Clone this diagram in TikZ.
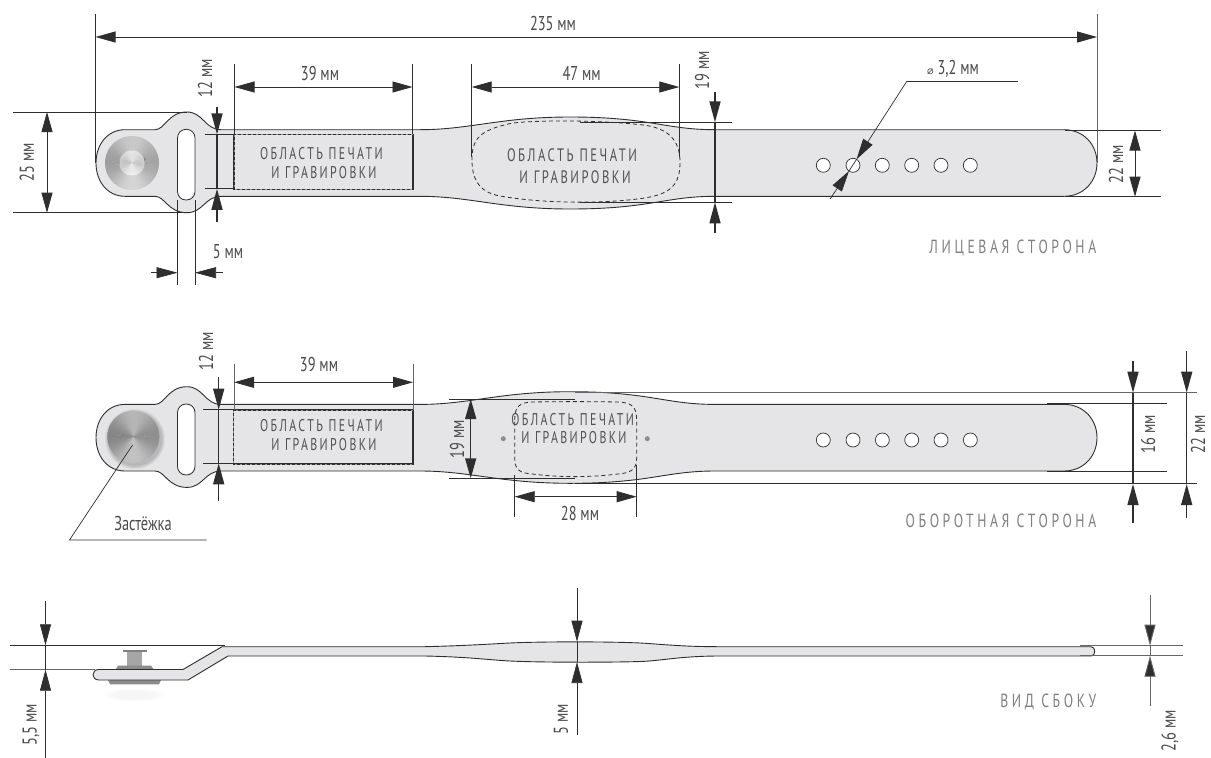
\documentclass[tikz,border=0pt]{standalone}
\usepackage{fontspec}
\setmainfont[FakeStretch=0.72]{PT Sans}
\newfontfamily\spaced[FakeStretch=0.7,LetterSpace=14]{PT Sans}
\newfontfamily\spacedw[FakeStretch=0.72,LetterSpace=19]{PT Sans}
\newfontfamily\symb{DejaVu Sans}
\usetikzlibrary{arrows.meta}
\definecolor{ink}{HTML}{2E2E2E}
\definecolor{belt}{HTML}{E5E5E7}
\definecolor{lab}{HTML}{4A4A4A}
\definecolor{cap}{HTML}{808080}
\tikzset{
  x=1pt,y=-1pt,
  outline/.style={draw=ink,line width=0.9pt,fill=belt},
  ext/.style={draw=ink,line width=0.7pt},
  extg/.style={draw=black!60,line width=0.9pt},
  dim/.style={draw=ink,line width=0.8pt,{Triangle[length=20pt,width=11pt]}-{Triangle[length=20pt,width=11pt]}},
  dimb/.style={dim,line width=1.4pt},
  shaft/.style={draw=ink,line width=1.5pt},
  tipin/.style={-{Triangle[length=21pt,width=11pt,fill=ink]}},
  dl/.style={font=\fontsize{20}{20}\selectfont,text=lab,inner sep=0pt},
  area/.style={font=\fontsize{17}{18}\selectfont\spaced,text=black!68,inner sep=0pt},
  areab/.style={font=\fontsize{18}{19}\selectfont\spaced,text=black!68,inner sep=0pt},
  caption/.style={font=\fontsize{19}{20}\selectfont\spacedw,text=cap,inner sep=0pt,anchor=east},
  hole/.style={draw=ink,line width=0.7pt,fill=white},
  dashb/.style={draw=ink,line width=0.8pt,dash pattern=on 4pt off 3pt},
  beltpath/.style n args={3}{insert path={
  (125,129.7+#1)
  -- (155,129.7+#1)
  .. controls (165,129.7+#1) and (168,112+#1) .. (187,112+#1)
  .. controls (203,112+#1) and (205,129.7+#1) .. (221,129.7+#1)
  -- (420,129.7+#1)
  .. controls (470,129.7+#1) and (500,#2) .. (570,#2)
  .. controls (650,#2) and (665,129.7+#1) .. (715,129.7+#1)
  -- (1064,129.7+#1)
  .. controls (1084,129.7+#1) and (1097,145+#1) .. (1097,163+#1)
  .. controls (1097,181+#1) and (1084,196.3+#1) .. (1064,196.3+#1)
  -- (715,196.3+#1)
  .. controls (665,196.3+#1) and (650,#3) .. (570,#3)
  .. controls (500,#3) and (470,196.3+#1) .. (420,196.3+#1)
  -- (221,196.3+#1)
  .. controls (205,196.3+#1) and (203,212.7+#1) .. (187,212.7+#1)
  .. controls (168,212.7+#1) and (165,196.3+#1) .. (155,196.3+#1)
  -- (125,196.3+#1)
  .. controls (107,196.3+#1) and (96,181+#1) .. (96,163+#1)
  .. controls (96,145+#1) and (107,129.7+#1) .. (125,129.7+#1) -- cycle}},
}
\newcommand{\metaldisc}[5]{% cx, cy, r, mean k, amp
  \foreach \a in {0,5,...,355}{
    \pgfmathsetmacro{\g}{#4+#5*cos(2*(\a+2.5))+0.3*#5*cos(\a-120)}
    \fill[black!\g!white] (#1,#2) -- ++({#3*cos(\a)},{-#3*sin(\a)}) arc[start angle=-\a,end angle={-\a-5.6},radius=#3] -- cycle;
  }}
\begin{document}
\begin{tikzpicture}
\useasboundingbox (0,0) rectangle (1211,758);
\fill[white] (0,0) rectangle (1211,758);

%====== FRONT
\path[outline,beltpath={0}{117}{209}];
\fill[white,draw=ink,line width=0.8pt,rounded corners=8.5pt] (177.5,129.3) rectangle (195,200);
\metaldisc{132}{163}{27}{28}{9}
\draw[black!50,line width=2.5pt] (132,163) ++(-20:13.5) arc[start angle=20,end angle=65,radius=13.5];
\metaldisc{132}{163}{12.5}{14}{6}
\foreach \x [count=\i] in {823.3,853,882.3,911.7,941,970.3}
  \node[hole,circle,minimum size=14pt,inner sep=0pt] (fh\i) at (\x,165.3) {};
\node[draw=ink,line width=1.3pt,minimum width=179pt,minimum height=55pt,inner sep=0pt] (frect) at (323.5,161.8) {};
\draw[black!40,line width=0.5pt,dash pattern=on 2pt off 3pt] (413,134.3) -- (234,134.3) -- (234,189.3) -- (413,189.3);
\node[area] (f1a) at (321.5,154) {ОБЛАСТЬ ПЕЧАТИ};
\node[area] (f1b) at (324,172.7) {И ГРАВИРОВКИ};
\draw[dashb] (472,160) .. controls (472,140) and (478,130) .. (513,123)
  .. controls (540,120) and (600,120) .. (643,125)
  .. controls (668,128) and (680,140) .. (680,162)
  .. controls (680,180) and (675,192) .. (650,197)
  .. controls (620,203) and (550,205) .. (500,196)
  .. controls (478,192) and (472,178) .. (472,160) -- cycle;
\node[areab] (f2a) at (572,155) {ОБЛАСТЬ ПЕЧАТИ};
\node[areab] (f2b) at (575,176.7) {И ГРАВИРОВКИ};

% 235
\coordinate (e1) at (95.5,14); \coordinate (e1b) at (95.5,163);
\coordinate (e2) at (1097,14); \coordinate (e2b) at (1097,163);
\draw[ext] (e1)--(e1b); \draw[extg] (e2)--(e2b);
\coordinate (d1) at (95.5,37); \coordinate (d2) at (1097,37);
\draw[dim] (d1)--(d2);
\node[dl] (l235) at (553,23) {235 мм};
% 25
\coordinate (a1) at (13,112); \coordinate (a2) at (187,112);
\coordinate (a3) at (13,212.7); \coordinate (a4) at (187,212.7);
\draw[ext] (a1)--(a2); \draw[ext] (a3)--(a4);
\coordinate (a5) at (47,112); \coordinate (a6) at (47,212.7);
\draw[dim] (a5)--(a6);
\node[dl,rotate=90] (l25) at (27,162) {25 мм};
% 12
\coordinate (b1) at (205,134.4); \coordinate (b2) at (234,134.4);
\coordinate (b3) at (205,188.8); \coordinate (b4) at (234,188.8);
\draw[ext] (b1)--(b2); \draw[ext] (b3)--(b4);
\coordinate (b5) at (217,107); \coordinate (b6) at (217,134.4);
\coordinate (b7) at (217,221.7); \coordinate (b8) at (217,188.8);
\draw[shaft] (b6)--(b8);
\draw[shaft,tipin] (b5)--(b6);
\draw[shaft,tipin] (b7)--(b8);
\node[dl,rotate=90] (l12) at (205,78) {12 мм};
% 39
\coordinate (c1) at (234.5,64); \coordinate (c2) at (234.5,134);
\coordinate (c3) at (412.5,64); \coordinate (c4) at (412.5,134);
\draw[ext] (c1)--(c2); \draw[ext] (c3)--(c4);
\coordinate (c5) at (234.5,87); \coordinate (c6) at (412.5,87);
\draw[dim] (c5)--(c6);
\node[dl] (l39) at (320,73) {39 мм};
% 5
\coordinate (g1) at (177.5,200); \coordinate (g2) at (177.5,284.7);
\coordinate (g3) at (195,200); \coordinate (g4) at (195,284.7);
\draw[ext] (g1)--(g2); \draw[ext] (g3)--(g4);
\coordinate (g5) at (150.6,272.7); \coordinate (g6) at (177.5,272.7);
\coordinate (g7) at (223,272.7); \coordinate (g8) at (195,272.7);
\draw[ext,tipin] (g5)--(g6);
\draw[ext,tipin] (g7)--(g8);
\node[dl] (l5) at (228,252) {5 мм};
% 47
\coordinate (h1) at (471.7,64); \coordinate (h2) at (471.7,157);
\coordinate (h3) at (679.3,64); \coordinate (h4) at (679.3,157);
\draw[ext] (h1)--(h2); \draw[ext] (h3)--(h4);
\coordinate (h5) at (471.7,87); \coordinate (h6) at (679.3,87);
\draw[dim] (h5)--(h6);
\node[dl] (l47) at (581.7,73) {47 мм};
% 19
\coordinate (i1) at (580,122.3); \coordinate (i2) at (731.7,122.3);
\coordinate (i3) at (580,202.3); \coordinate (i4) at (731.7,202.3);
\draw[ext] (i1)--(i2); \draw[ext] (i3)--(i4);
\coordinate (i5) at (715,92); \coordinate (i6) at (715,122.3);
\coordinate (i7) at (715,232.7); \coordinate (i8) at (715,202.3);
\draw[shaft] (i6)--(i8);
\draw[shaft,tipin] (i5)--(i6);
\draw[shaft,tipin] (i7)--(i8);
\node[dl,rotate=90] (l19) at (702,70) {19 мм};
% dia
\coordinate (j0) at (1018,81); \coordinate (j1) at (907,81);
\coordinate (j2) at (856.5,159.4); \coordinate (j3) at (830,199); \coordinate (j4) at (849,171);
\draw[ext] (j0)--(j1);
\draw[ext,tipin] (j1)--(j2);
\draw[ext,tipin] (j3)--(j4);
\draw[ext] (j2)--(j4);
\node[dl] (ldia) at (953,69) {{\symb\fontsize{11}{11}\selectfont ⌀}\ 3,2 мм};
% 22
\coordinate (k1) at (1065,130.5); \coordinate (k2) at (1161,130.5);
\coordinate (k3) at (1065,196.7); \coordinate (k4) at (1161,196.7);
\draw[ext] (k1)--(k2); \draw[ext] (k3)--(k4);
\coordinate (k5) at (1135,130.5); \coordinate (k6) at (1135,196.7);
\draw[dim] (k5)--(k6);
\node[dl,rotate=90] (l22) at (1116,164) {22 мм};
\node[caption] (capf) at (1096.5,248) {ЛИЦЕВАЯ СТОРОНА};

%====== BACK
\path[outline,beltpath={274.7}{391.7}{483.3}];
\fill[white,draw=ink,line width=0.8pt,rounded corners=8.5pt] (177.5,404) rectangle (195,475);
\foreach \r in {30,29,28,27}{\fill[black,opacity=0.05] (135,439) circle[radius=\r];}
\metaldisc{133.3}{436.7}{26}{36}{10}
\foreach \x [count=\i] in {823.3,853,882.3,911.7,941,970.3}
  \node[hole,circle,minimum size=14pt,inner sep=0pt] (bh\i) at (\x,440) {};
\node[draw=ink,line width=1.3pt,minimum width=179.5pt,minimum height=54pt,inner sep=0pt] (brect) at (323.3,437) {};
\draw[black!40,line width=0.5pt,dash pattern=on 2pt off 3pt] (413,410) -- (233.7,410) -- (233.7,464) -- (413,464);
\node[area] (b1a) at (321.5,426) {ОБЛАСТЬ ПЕЧАТИ};
\node[area] (b1b) at (324,444.7) {И ГРАВИРОВКИ};
\draw[dashb] (514.7,420) .. controls (514.7,406) and (520,402.5) .. (532,402)
  .. controls (560,401.5) and (590,401.5) .. (618,402)
  .. controls (631,402.5) and (636.7,406) .. (636.7,420)
  -- (636.7,458)
  .. controls (636.7,470) and (630,473) .. (618,474)
  .. controls (590,477.5) and (560,477.5) .. (532,474)
  .. controls (520,473) and (514.7,470) .. (514.7,458) -- cycle;
\node[area] (b2a) at (572.7,420) {ОБЛАСТЬ ПЕЧАТИ};
\node[area] (b2b) at (574,438) {И ГРАВИРОВКИ};
\node[circle,fill=black!45,minimum size=5pt,inner sep=0pt] (dot1) at (503.3,438.7) {};
\node[circle,fill=black!45,minimum size=5pt,inner sep=0pt] (dot2) at (647.3,438.7) {};
% 39
\coordinate (m1) at (234,364); \coordinate (m2) at (234,410);
\coordinate (m3) at (413,364); \coordinate (m4) at (413,410);
\draw[extg,line width=0.7pt] (m1)--(m2); \draw[extg,line width=0.7pt] (m3)--(m4);
\coordinate (m5) at (234,382.3); \coordinate (m6) at (413,382.3);
\draw[dim] (m5)--(m6);
\node[dl] (lb39) at (319,364) {39 мм};
% 12
\coordinate (n1) at (203,409.7); \coordinate (n2) at (234,409.7);
\coordinate (n3) at (203,463.3); \coordinate (n4) at (234,463.3);
\draw[ext] (n1)--(n2); \draw[ext] (n3)--(n4);
\coordinate (n5) at (218.7,377); \coordinate (n6) at (218.7,409.7);
\coordinate (n7) at (218.7,500.7); \coordinate (n8) at (218.7,463.3);
\draw[shaft] (n6)--(n8);
\draw[shaft,tipin] (n5)--(n6);
\draw[shaft,tipin] (n7)--(n8);
\node[dl,rotate=90] (lb12) at (206,351) {12 мм};
% leader
\coordinate (q1) at (132.5,445); \coordinate (q2) at (69.5,540); \coordinate (q3) at (206.7,540);
\draw[ext] (q1)--(q2)--(q3);
\node[dl] (lq) at (143,523) {Застёжка};
% 19
\coordinate (r1) at (449,399); \coordinate (r2) at (575,399);
\coordinate (r3) at (449,478.3); \coordinate (r4) at (575,478.3);
\draw[ext] (r1)--(r2); \draw[ext] (r3)--(r4);
\coordinate (r5) at (470.7,399); \coordinate (r6) at (470.7,478.3);
\draw[dimb] (r5)--(r6);
\node[dl,rotate=90] (lb19) at (457,439) {19 мм};
% 28
\coordinate (s1) at (514.7,475); \coordinate (s2) at (514.7,516.7);
\coordinate (s3) at (636.7,465); \coordinate (s4) at (636.7,516.7);
\draw[ext] (s1)--(s2); \draw[ext] (s3)--(s4);
\coordinate (s5) at (514.7,496.7); \coordinate (s6) at (636.7,496.7);
\draw[dim] (s5)--(s6);
\node[dl] (l28) at (580,513) {28 мм};
% 22 & 16
\coordinate (t1) at (575,392.7); \coordinate (t2) at (1197,392.7);
\coordinate (t3) at (575,483.3); \coordinate (t4) at (1197,483.3);
\draw[extg] (t1)--(t2); \draw[ext] (t3)--(t4);
\coordinate (u1) at (1047,403.3); \coordinate (u2) at (1167,403.3);
\coordinate (u3) at (1047,471.3); \coordinate (u4) at (1167,471.3);
\draw[ext] (u1)--(u2); \draw[ext] (u3)--(u4);
\coordinate (v1) at (1133,361); \coordinate (v2) at (1133,392.7);
\coordinate (v3) at (1133,523); \coordinate (v4) at (1133,484);
\draw[shaft] (v2)--(v4);
\draw[shaft,tipin] (v1)--(v2);
\draw[shaft,tipin] (v3)--(v4);
\node[dl,rotate=90] (l16) at (1148,434) {16 мм};
\coordinate (w1) at (1186.7,351); \coordinate (w2) at (1186.7,392.7);
\coordinate (w3) at (1186.7,518.3); \coordinate (w4) at (1186.7,484);
\draw[shaft] (w2)--(w4);
\draw[shaft,tipin] (w1)--(w2);
\draw[shaft,tipin] (w3)--(w4);
\node[dl,rotate=90] (lb22) at (1198,434) {22 мм};
\node[caption] (capb) at (1096.5,520.5) {ОБОРОТНАЯ СТОРОНА};

%====== SIDE
\foreach \w in {26,22,18}{\fill[black,opacity=0.012] (135,695) ellipse[x radius=\w+4,y radius=\w/4];}
\fill[black!45] (108,680) -- (161,680) -- (159,684.3) -- (110,684.3) -- cycle;
\fill[black!35] (127,651) rectangle (142,667);
\fill[black!50] (123,649.7) rectangle (147,652.3);
\fill[black!45] (116,669) -- (118,665.5) -- (151,665.5) -- (153.5,669) -- cycle;
\draw[outline] (227,646.7) -- (425,646.7)
  .. controls (470,645.5) and (490,644) .. (510,643)
  .. controls (540,641.5) and (610,641.5) .. (640,643)
  .. controls (660,644) and (680,646.7) .. (720,646.7)
  -- (1091,646.7) .. controls (1096,646.7) and (1096,656) .. (1091,656)
  -- (720,656)
  .. controls (680,656) and (660,661) .. (640,661.5)
  .. controls (610,662.5) and (540,662.5) .. (510,661)
  .. controls (490,660) and (470,657) .. (425,656)
  -- (228,656) -- (188,680) -- (99,680)
  .. controls (91,680) and (91,669.5) .. (99,669.5)
  -- (183,669.5) -- (222,646.7) -- cycle;
\coordinate (x1) at (10,645.3); \coordinate (x2) at (225,645.3);
\coordinate (x3) at (10,669.7); \coordinate (x4) at (95,669.7);
\draw[ext] (x1)--(x2); \draw[extg] (x3)--(x4);
\coordinate (y1) at (45.5,601); \coordinate (y2) at (45.5,645.3);
\coordinate (y3) at (45.5,758); \coordinate (y4) at (45.5,669.7);
\draw[ext] (y2)--(y4);
\draw[ext,tipin] (y1)--(y2);
\draw[ext,tipin] (y3)--(y4);
\node[dl,rotate=90] (ls55) at (31,725) {5,5 мм};
\coordinate (z1) at (577,588); \coordinate (z2) at (577,641.7);
\coordinate (z3) at (577,735); \coordinate (z4) at (577,662);
\draw[ext] (z2)--(z4);
\draw[ext,tipin] (z1)--(z2);
\draw[ext,tipin] (z3)--(z4);
\node[dl,rotate=90] (ls5) at (561,719) {5 мм};
\coordinate (o1) at (1080,645.7); \coordinate (o2) at (1182.7,645.7);
\coordinate (o3) at (1080,655.7); \coordinate (o4) at (1182.7,655.7);
\draw[extg] (o1)--(o2); \draw[extg] (o3)--(o4);
\coordinate (p1) at (1150,595); \coordinate (p2) at (1150,645.7);
\coordinate (p3) at (1150,705.7); \coordinate (p4) at (1150,655.7);
\draw[extg] (p2)--(p4);
\draw[extg,tipin] (p1)--(p2);
\draw[extg,tipin] (p3)--(p4);
\node[dl,rotate=90] (ls26) at (1170,731) {2,6 мм};
\node[caption] (caps) at (1096.5,701.5) {ВИД СБОКУ};
\end{tikzpicture}
\end{document}
